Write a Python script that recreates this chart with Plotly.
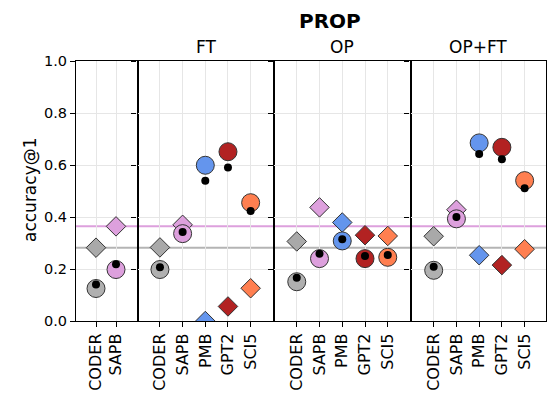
import plotly.graph_objects as go

# ---- data ----
base_categories = ["CODER", "SAPB"]
categories = ["CODER", "SAPB", "PMB", "GPT2", "SCI5"]
panel_titles = ["", "FT", "OP", "OP+FT"]

base_diamond = [0.282, 0.364]
base_circle = [0.125, 0.198]
base_dot = [0.140, 0.218]

ft_diamond = [0.283, 0.370, 0.0, 0.056, 0.126]
ft_circle = [0.198, 0.336, 0.599, 0.651, 0.455]
ft_dot = [0.207, 0.342, 0.539, 0.590, 0.423]

op_diamond = [0.306, 0.437, 0.379, 0.330, 0.327]
op_circle = [0.151, 0.240, 0.308, 0.240, 0.245]
op_dot = [0.166, 0.259, 0.314, 0.250, 0.254]

opft_diamond = [0.326, 0.428, 0.253, 0.215, 0.276]
opft_circle = [0.195, 0.393, 0.685, 0.668, 0.540]
opft_dot = [0.209, 0.400, 0.642, 0.622, 0.511]

model_colors = {"CODER": "#b0b0b0", "SAPB": "#dda0dd", "PMB": "#6495ed",
                "GPT2": "#b22222", "SCI5": "#ff7f50"}
diamond_gray = "#a9a9a9"

FONT = "DejaVu Sans"
OFF = 8  # page body margin
W, H = 556 - OFF, 396 - OFF
L, R, T, B = 76 - OFF, 10, 61 - OFF, 75
pw = W - L - R
ph = H - T - B

# panel pixel edges (in page coords)
edges_px = [76, 137.5, 274, 410.5, 546]
domains = [[(edges_px[i] - 76) / pw, (edges_px[i + 1] - 76) / pw] for i in range(4)]
domains[-1][1] = 1.0
xranges = [[-1, 2.075], [-0.99, 5.03], [-1.0, 5.0], [-1.02, 4.94]]

panels = [
    (base_categories, base_diamond, base_circle, base_dot),
    (categories, ft_diamond, ft_circle, ft_dot),
    (categories, op_diamond, op_circle, op_dot),
    (categories, opft_diamond, opft_circle, opft_dot),
]

fig = go.Figure()
for i, (cats, dia, cir, dot) in enumerate(panels):
    xa = "x" if i == 0 else f"x{i+1}"
    ya = "y" if i == 0 else f"y{i+1}"
    xs = list(range(len(cats)))
    dcols = [diamond_gray if c == "CODER" else model_colors[c] for c in cats]
    ccols = [model_colors[c] for c in cats]
    fig.add_trace(go.Scatter(x=xs, y=dia, mode="markers", xaxis=xa, yaxis=ya,
                             marker=dict(symbol="diamond", size=15, color=dcols,
                                         line=dict(color="#333333", width=1)),
                             showlegend=False, hoverinfo="skip"))
    fig.add_trace(go.Scatter(x=xs, y=cir, mode="markers", xaxis=xa, yaxis=ya,
                             marker=dict(symbol="circle", size=18, color=ccols,
                                         line=dict(color="#333333", width=1)),
                             showlegend=False, hoverinfo="skip"))
    fig.add_trace(go.Scatter(x=xs, y=dot, mode="markers", xaxis=xa, yaxis=ya,
                             marker=dict(symbol="circle", size=8, color="black",
                                         line=dict(width=0)),
                             showlegend=False, hoverinfo="skip"))

    axis_common = dict(showline=True, linecolor="black", linewidth=1.2, mirror=True,
                       showgrid=True, gridcolor="#e6e6e6", gridwidth=1,
                       ticks="outside", ticklen=5, tickcolor="black",
                       zeroline=False, automargin=False,
                       tickfont=dict(family=FONT, size=16, color="black"))
    xkey = "xaxis" if i == 0 else f"xaxis{i+1}"
    ykey = "yaxis" if i == 0 else f"yaxis{i+1}"
    fig.update_layout({
        xkey: dict(axis_common, domain=domains[i], range=xranges[i], anchor=ya,
                   tickmode="array", tickvals=xs, ticktext=cats, tickangle=-90),
        ykey: dict(axis_common, domain=[0, 1], range=[0, 1], anchor=xa,
                   tickmode="array", tickvals=[0, 0.2, 0.4, 0.6, 0.8, 1.0],
                   ticktext=["0.0", "0.2", "0.4", "0.6", "0.8", "1.0"],
                   showticklabels=(i == 0),
                   tickfont=dict(family=FONT, size=14.5, color="black")),
    })
    # reference lines from base diamonds
    for val, col in [(base_diamond[0], "#b4b4b4"), (base_diamond[1], "#dda0dd")]:
        fig.add_shape(type="line", xref=f"{xa} domain", yref=ya, x0=0, x1=1,
                      y0=val, y1=val, line=dict(color=col, width=2), layer="below")
    if panel_titles[i]:
        fig.add_annotation(text=panel_titles[i], xref=f"{xa} domain", yref="paper",
                           x=0.5, y=1, yanchor="bottom", yshift=2, showarrow=False,
                           font=dict(family=FONT, size=17, color="black"))

fig.add_annotation(text="<b>PROP</b>", xref="paper", yref="paper",
                   x=(330 - 76) / pw, y=1, yanchor="bottom", yshift=26, showarrow=False,
                   font=dict(family=FONT, size=20, color="black"))
fig.add_annotation(text="accuracy@1", xref="paper", yref="paper",
                   x=(30 - 76) / pw, y=(321 - 190) / ph, textangle=-90,
                   xanchor="center", yanchor="middle", showarrow=False,
                   font=dict(family=FONT, size=17, color="black"))

fig.update_layout(width=W, height=H, margin=dict(l=L, r=R, t=T, b=B, autoexpand=False),
                  paper_bgcolor="white", plot_bgcolor="white", showlegend=False,
                  font=dict(family=FONT, color="black"))
fig.write_html("out.html")
